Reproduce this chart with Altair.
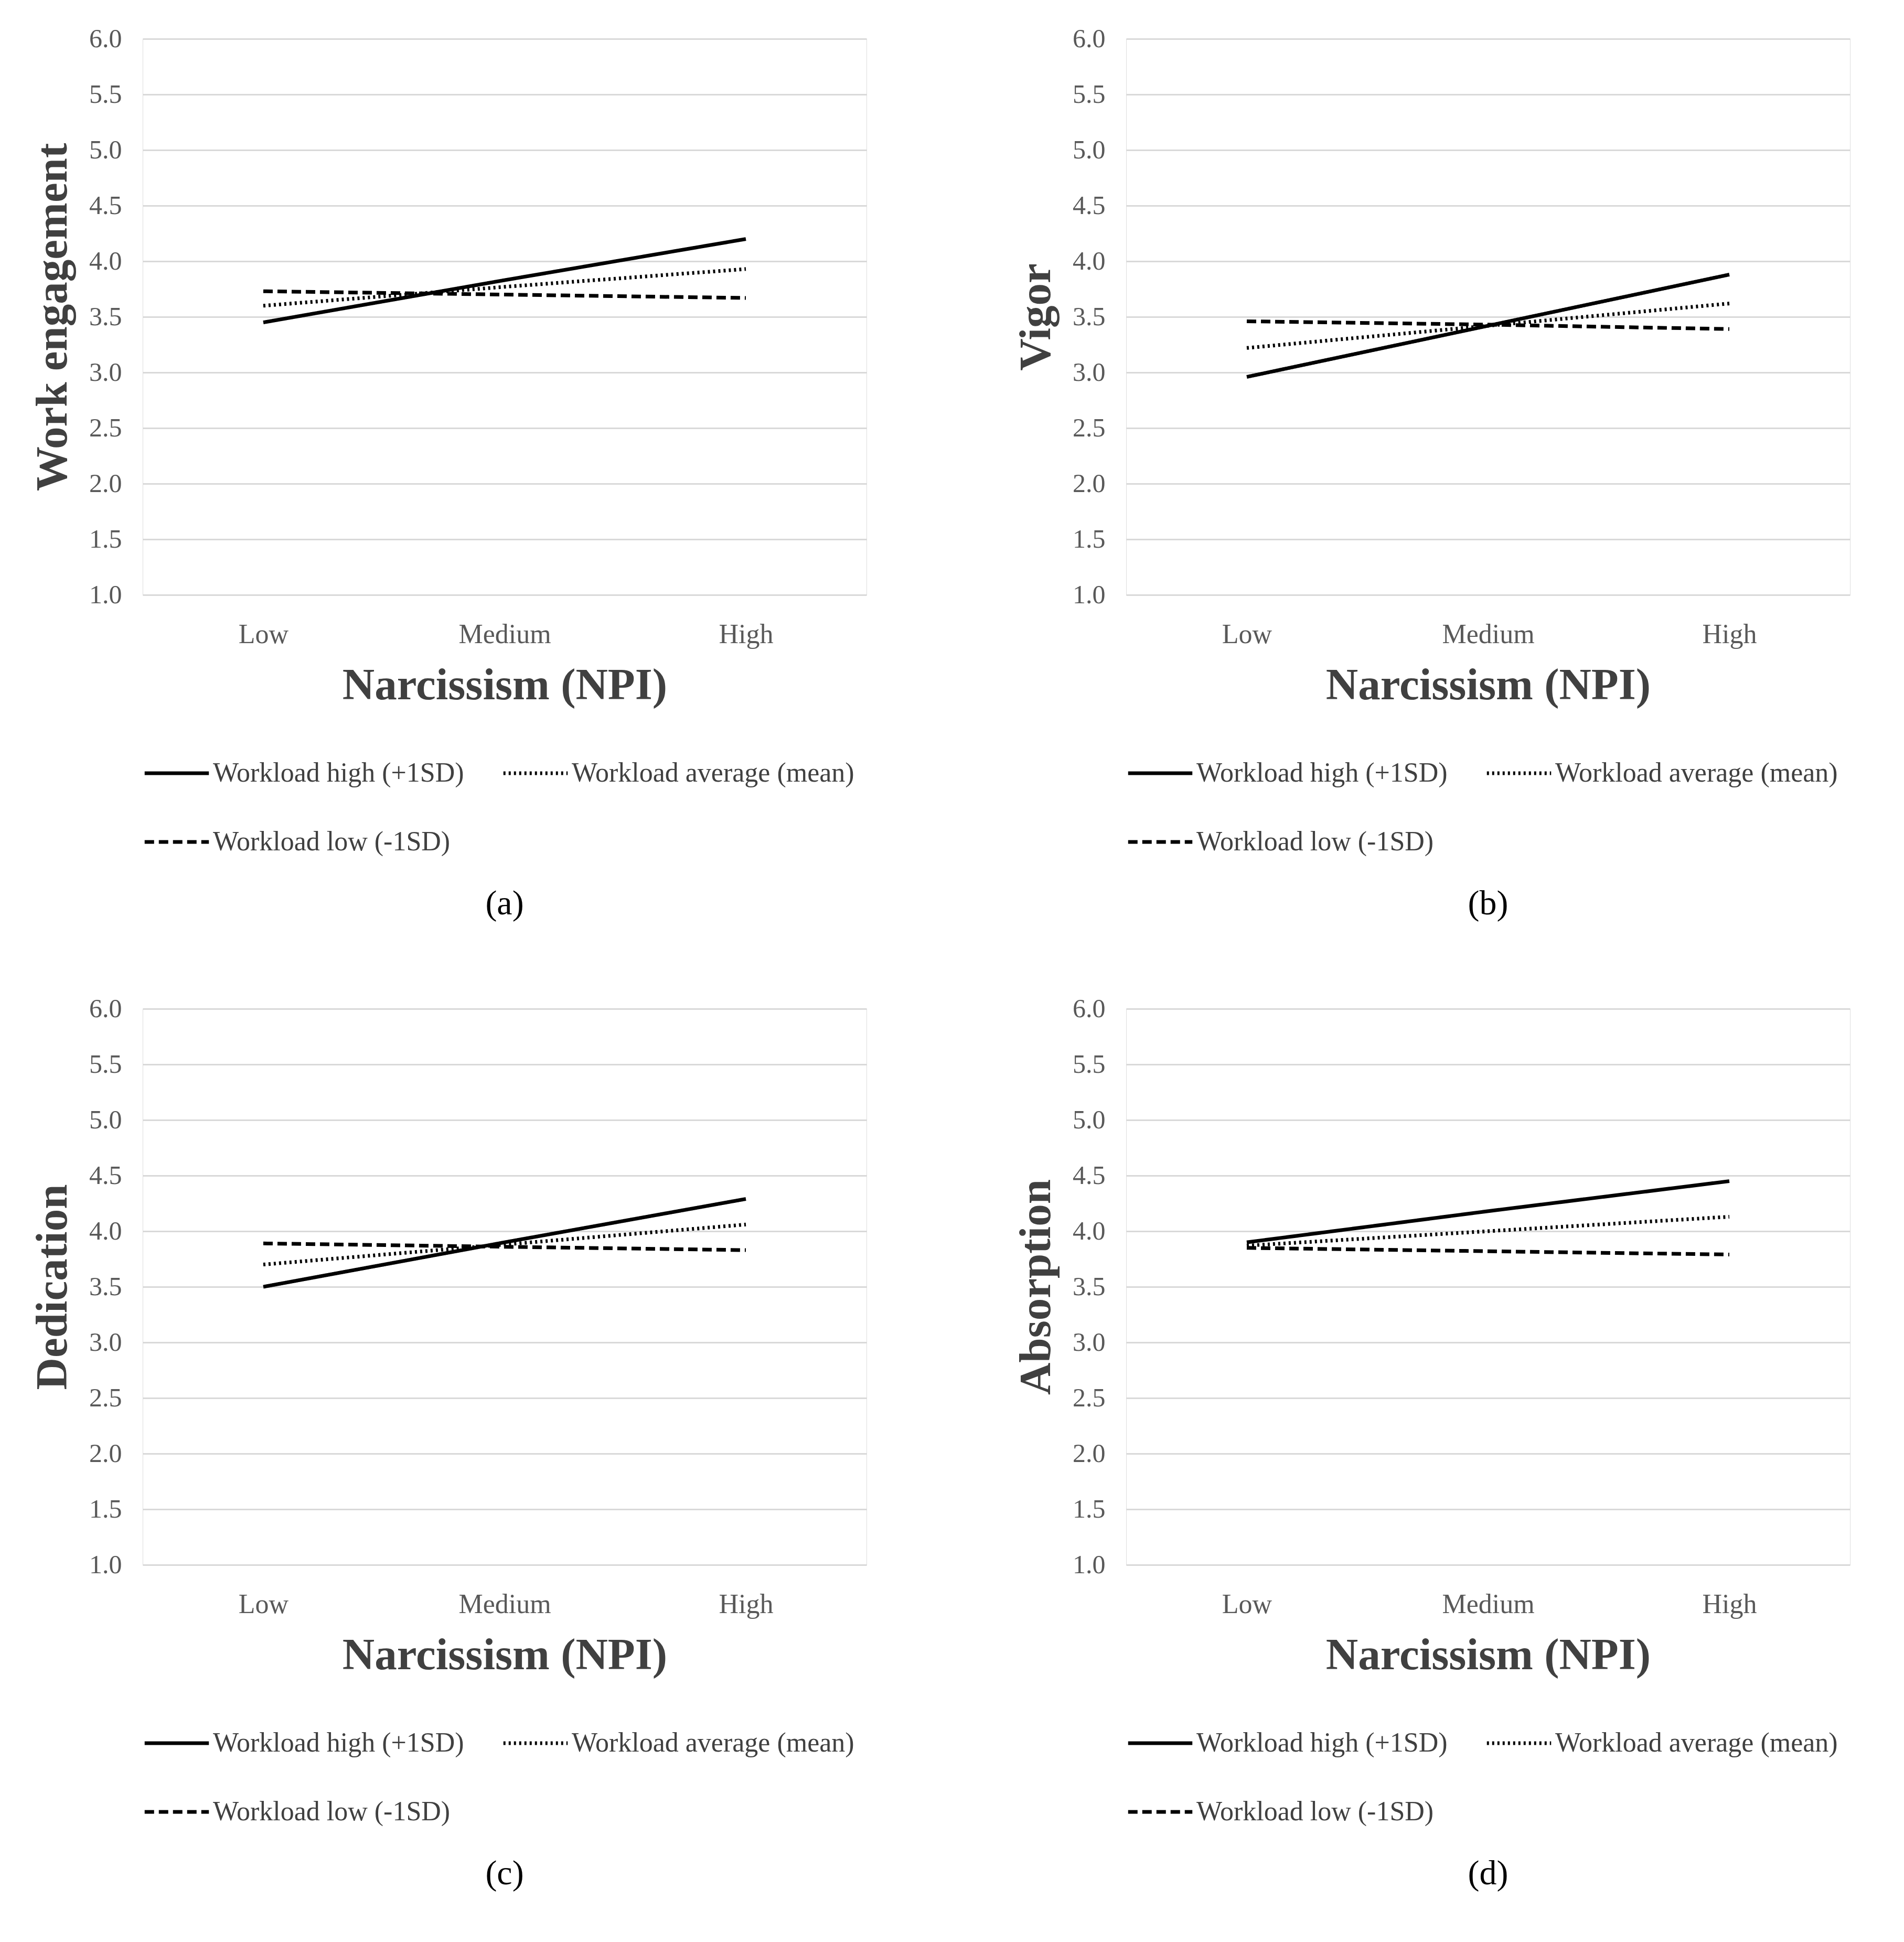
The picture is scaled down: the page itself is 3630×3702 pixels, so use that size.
import altair as alt
import pandas as pd

levels = ["Low", "Medium", "High"]
series = ["Workload high (+1SD)", "Workload average (mean)", "Workload low (-1SD)"]

engagement_high = [3.45, 3.83, 4.20]
engagement_avg = [3.60, 3.77, 3.93]
engagement_low = [3.73, 3.70, 3.67]

vigor_high = [2.96, 3.42, 3.88]
vigor_avg = [3.22, 3.42, 3.62]
vigor_low = [3.46, 3.43, 3.39]

dedication_high = [3.50, 3.90, 4.29]
dedication_avg = [3.70, 3.88, 4.06]
dedication_low = [3.89, 3.86, 3.83]

absorption_high = [3.90, 4.18, 4.45]
absorption_avg = [3.87, 4.00, 4.13]
absorption_low = [3.85, 3.82, 3.79]

FONT = "Liberation Serif"


def panel(ytitle, high, avg, low, caption):
    rows = []
    for name, vals in zip(series, [high, avg, low]):
        for lvl, v in zip(levels, vals):
            rows.append({"level": lvl, "value": v, "series": name})
    df = pd.DataFrame(rows)
    return alt.Chart(df).mark_line(strokeWidth=7, color="black").encode(
        x=alt.X("level:N", sort=levels, scale=alt.Scale(type="point", padding=0.5),
                title="Narcissism (NPI)",
                axis=alt.Axis(labelFontSize=52, labelColor="#595959", labelFont=FONT,
                              titleFont=FONT, titleFontSize=85, titleColor="#404040",
                              domain=False, ticks=False, labelPadding=50, titlePadding=30,
                              labelAngle=0)),
        y=alt.Y("value:Q", scale=alt.Scale(domain=[1, 6]), title=ytitle,
                axis=alt.Axis(values=[1 + 0.5 * i for i in range(11)], format=".1f",
                              labelFontSize=50, labelColor="#595959", labelFont=FONT,
                              titleFont=FONT, titleFontSize=85, titleColor="#404040",
                              domain=False, ticks=False, gridColor="#d9d9d9",
                              gridWidth=3, labelPadding=40, titlePadding=25)),
        strokeDash=alt.StrokeDash("series:N", sort=series,
                                  scale=alt.Scale(domain=series, range=[[1, 0], [4, 6], [18, 9]]),
                                  legend=alt.Legend(orient="bottom", columns=2, title=None,
                                                    symbolType="stroke", symbolStrokeWidth=7,
                                                    symbolSize=15000, symbolStrokeColor="black",
                                                    labelFont=FONT, labelFontSize=52,
                                                    labelColor="#404040", labelLimit=1000,
                                                    columnPadding=60, rowPadding=40,
                                                    offset=60)),
    ).properties(
        width=1380, height=1060,
        title=alt.TitleParams(caption, orient="bottom", font=FONT, fontSize=66,
                              fontWeight="normal", offset=60, color="black"),
    )


a = panel("Work engagement", engagement_high, engagement_avg, engagement_low, "(a)")
b = panel("Vigor", vigor_high, vigor_avg, vigor_low, "(b)")
c = panel("Dedication", dedication_high, dedication_avg, dedication_low, "(c)")
d = panel("Absorption", absorption_high, absorption_avg, absorption_low, "(d)")

chart = alt.vconcat(
    alt.hconcat(a, b, spacing=280).resolve_scale(strokeDash="independent"),
    alt.hconcat(c, d, spacing=280).resolve_scale(strokeDash="independent"),
    spacing=140,
).resolve_scale(strokeDash="independent").properties(
    padding={"left": 50, "top": 40, "right": 10, "bottom": 10}
).configure_view(stroke=None).configure(background="white")

chart.save("out.html", embed_options={"renderer": "svg", "actions": False})
